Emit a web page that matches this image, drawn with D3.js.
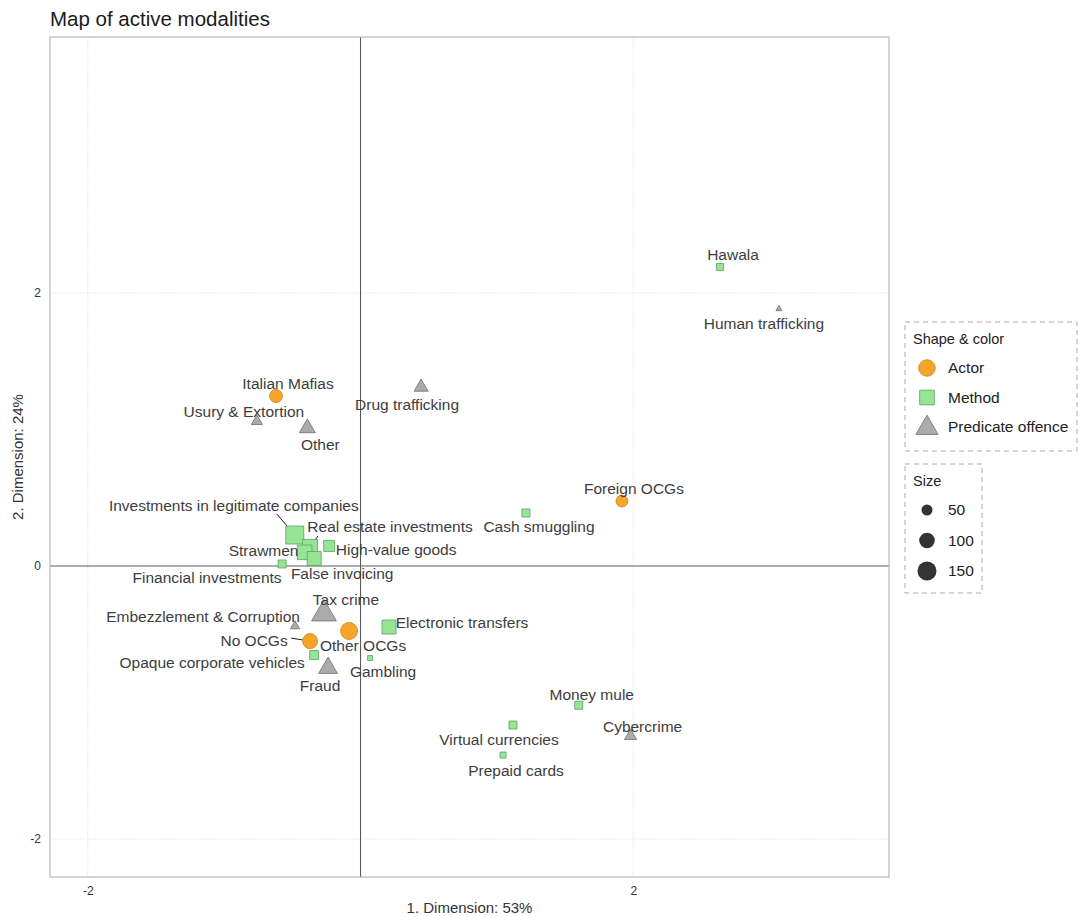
<!DOCTYPE html>
<html><head><meta charset="utf-8">
<script src="https://cdn.jsdelivr.net/npm/d3@7"></script>
<style>body{margin:0;background:#fff;} text{font-family:"Liberation Sans",Arial,sans-serif;}</style>
</head><body>
<svg id="chart" width="1079" height="917"></svg>
<script>
// ---- data ----
const names = ["Hawala","Human trafficking","Italian Mafias","Usury & Extortion","Other","Drug trafficking",
 "Foreign OCGs","Cash smuggling","Investments in legitimate companies","Real estate investments","Strawmen",
 "High-value goods","Financial investments","False invoicing","Tax crime","Embezzlement & Corruption",
 "Electronic transfers","No OCGs","Other OCGs","Opaque corporate vehicles","Gambling","Fraud",
 "Money mule","Virtual currencies","Cybercrime","Prepaid cards"];
const dim1 = [2.636,3.068,-0.62,-0.76,-0.39,0.444,1.917,1.213,-0.482,-0.37,-0.41,-0.23,-0.575,-0.34,
 -0.268,-0.48,0.209,-0.37,-0.084,-0.34,0.07,-0.238,1.6,1.118,1.98,1.045];
const dim2 = [2.19,1.883,1.245,1.06,1.01,1.31,0.476,0.388,0.227,0.14,0.10,0.147,0.015,0.055,
 -0.35,-0.44,-0.447,-0.55,-0.476,-0.652,-0.674,-0.747,-1.02,-1.165,-1.245,-1.385];
const types = ["Method","Predicate offence","Actor","Predicate offence","Predicate offence","Predicate offence",
 "Actor","Method","Method","Method","Method","Method","Method","Method","Predicate offence","Predicate offence",
 "Method","Actor","Actor","Method","Method","Predicate offence","Method","Method","Predicate offence","Method"];
const sizes = [26,8,70,28,58,45,59,34,170,118,112,64,34,103,139,20,103,93,119,42,13,81,34,34,33,19];
const typeLevels = ["Actor","Method","Predicate offence"];
const sizeBreaks = [50,100,150];
const xTicks = [-2,2];
const yTicks = [-2,0,2];
// label offsets (px) from repel layout
const labelDx = [13,-15,12,-13,13,-14,12,13,-61,80,-41,67,-75,28,22,-92,73,-56,14,-102,13,-8,13,-14,12,13];
const labelDy = [-12,15,-12,-10,16,17,-12,14,-29,-20,-2,4,14,15,-14,-10,-4,-1,15,8,14,18,-11,15,-9,15];
const leaders = ["Investments in legitimate companies","Real estate investments","No OCGs"];

// ---- layout ----
const svg = d3.select("#chart");
const L=50,R=889,T=37,B=877;
const x = d3.scaleLinear().domain([-2.277,3.875]).range([L,R]);
const y = d3.scaleLinear().domain([-2.278,3.875]).range([B,T]);
const r = d3.scaleSqrt().domain([0,150]).range([0,9.53]);
const fill = d3.scaleOrdinal().domain(typeLevels).range(["#F7A52A","#96E596","#ABABAB"]);
const stroke = d3.scaleOrdinal().domain(typeLevels).range(["#C98518","#5E9E5E","#6E6E6E"]);
const shape = d3.scaleOrdinal().domain(typeLevels).range([d3.symbolCircle,d3.symbolSquare,d3.symbolTriangle]);
const txt = "#3d3d3d";

svg.append("text").attr("x",50).attr("y",26).attr("font-size",20.5).attr("fill","#1a1a1a").text("Map of active modalities");

// panel
svg.append("rect").attr("x",L).attr("y",T).attr("width",R-L).attr("height",B-T).attr("fill","#fff");
const g = svg.append("g");
xTicks.forEach(v=>g.append("line").attr("x1",x(v)).attr("x2",x(v)).attr("y1",T).attr("y2",B)
  .attr("stroke","#d6d6d6").attr("stroke-width",0.8).attr("stroke-dasharray","1,1.5"));
yTicks.filter(v=>v!==0).forEach(v=>g.append("line").attr("y1",y(v)).attr("y2",y(v)).attr("x1",L).attr("x2",R)
  .attr("stroke","#d6d6d6").attr("stroke-width",0.8).attr("stroke-dasharray","1,1.5"));
// reference lines
g.append("line").attr("x1",x(0)).attr("x2",x(0)).attr("y1",T).attr("y2",B).attr("stroke","#5a5a5a").attr("stroke-width",1.1);
g.append("line").attr("y1",y(0)).attr("y2",y(0)).attr("x1",L).attr("x2",R).attr("stroke","#5a5a5a").attr("stroke-width",1.1);
svg.append("rect").attr("x",L).attr("y",T).attr("width",R-L).attr("height",B-T).attr("fill","none").attr("stroke","#b8b8b8").attr("stroke-width",1.2);

// axes
const fmt = v=>String(v);
const xAxis = d3.axisBottom(x).tickValues(xTicks).tickSize(0).tickPadding(9).tickFormat(fmt);
const yAxis = d3.axisLeft(y).tickValues(yTicks).tickSize(0).tickPadding(9).tickFormat(fmt);
const gx = svg.append("g").attr("transform",`translate(0,${B})`).call(xAxis);
const gy = svg.append("g").attr("transform",`translate(${L},0)`).call(yAxis);
[gx,gy].forEach(a=>{a.select(".domain").remove();a.selectAll("text").attr("font-size",12).attr("fill","#333").attr("font-family","Liberation Sans, Arial, sans-serif");});
svg.append("text").attr("x",(L+R)/2).attr("y",913).attr("text-anchor","middle").attr("font-size",15).attr("fill","#333").text("1. Dimension: 53%");
svg.append("text").attr("transform",`translate(23,${(T+B)/2}) rotate(-90)`).attr("text-anchor","middle").attr("font-size",15).attr("fill","#333").text("2. Dimension: 24%");

const data = names.map((n,i)=>({name:n,d1:dim1[i],d2:dim2[i],type:types[i],size:sizes[i],dx:labelDx[i],dy:labelDy[i]}));

// leader segments
data.filter(d=>leaders.includes(d.name)).forEach(d=>{
  const px=x(d.d1),py=y(d.d2),lx=px+d.dx,ly=py+d.dy;
  let ex,ey;
  if(d.name==="No OCGs"){ex=lx+37;ey=ly-2;}
  else if(d.name==="Real estate investments"){ex=lx-72;ey=ly+9;}
  else {ex=lx+43;ey=ly+8;}
  svg.append("line").attr("x1",ex).attr("y1",ey).attr("x2",px).attr("y2",py).attr("stroke","#222").attr("stroke-width",1);
});

// points: draw larger first
svg.append("g").selectAll("path").data(data.slice().sort((a,b)=>b.size-a.size)).join("path")
  .attr("transform",d=>`translate(${x(d.d1)},${y(d.d2)})`)
  .attr("d",d=>d3.symbol().type(shape(d.type)).size(Math.PI*r(d.size)**2)())
  .attr("fill",d=>fill(d.type)).attr("stroke",d=>stroke(d.type)).attr("stroke-width",0.8);

// labels
svg.append("g").selectAll("text").data(data).join("text")
  .attr("x",d=>x(d.d1)+d.dx).attr("y",d=>y(d.d2)+d.dy).attr("dy","0.35em")
  .attr("text-anchor","middle").attr("font-size",15.5).attr("fill",txt).text(d=>d.name);

// legend 1
const lg1 = svg.append("g");
lg1.append("rect").attr("x",905).attr("y",322).attr("width",172).attr("height",129).attr("fill","none").attr("stroke","#aaa").attr("stroke-dasharray","5,4");
lg1.append("text").attr("x",913).attr("y",339).attr("dy","0.35em").attr("font-size",14.5).attr("fill","#222").text("Shape & color");
typeLevels.forEach((t,i)=>{
  const cy=368+i*29.5;
  lg1.append("path").attr("transform",`translate(927,${cy+(i===2?1:0)})`).attr("d",d3.symbol().type(shape(t)).size(215)())
    .attr("fill",fill(t)).attr("stroke",stroke(t)).attr("stroke-width",0.8);
  lg1.append("text").attr("x",948).attr("y",cy).attr("dy","0.35em").attr("font-size",15.5).attr("fill","#222").text(t);
});
// legend 2
const lg2 = svg.append("g");
lg2.append("rect").attr("x",905).attr("y",464).attr("width",77).attr("height",129).attr("fill","none").attr("stroke","#aaa").attr("stroke-dasharray","5,4");
lg2.append("text").attr("x",913).attr("y",481).attr("dy","0.35em").attr("font-size",14.5).attr("fill","#222").text("Size");
sizeBreaks.forEach((s,i)=>{
  const cy=510+i*30.5;
  lg2.append("circle").attr("cx",927).attr("cy",cy).attr("r",r(s)).attr("fill","#333");
  lg2.append("text").attr("x",948).attr("y",cy).attr("dy","0.35em").attr("font-size",15.5).attr("fill","#222").text(s);
});
</script>
</body></html>
